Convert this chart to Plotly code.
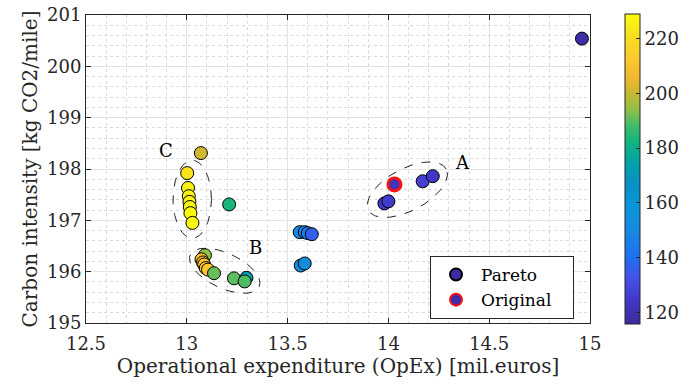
import numpy as np
import plotly.graph_objects as go

# Pareto-front designs: operational expenditure, carbon intensity, colour value
opex = [14.96, 13.98, 14.00, 14.17, 14.22,
        13.56, 13.585, 13.60, 13.62, 13.565, 13.585,
        13.07, 13.002, 13.006, 13.010, 13.013, 13.015, 13.018, 13.028, 13.21,
        13.09, 13.073, 13.080, 13.086, 13.094, 13.105, 13.135, 13.234, 13.296, 13.287]
carbon = [200.54, 197.33, 197.37, 197.76, 197.86,
          196.77, 196.77, 196.75, 196.73, 196.12, 196.16,
          198.31, 197.92, 197.63, 197.47, 197.36, 197.26, 197.14, 196.95, 197.31,
          196.32, 196.24, 196.18, 196.14, 196.07, 196.04, 195.97, 195.87, 195.88, 195.81]
cvalue = [118, 124, 126, 127, 124,
          150, 148, 146, 136, 155, 153,
          201, 222, 226, 227, 227, 227, 228, 228, 183,
          194, 210, 211, 212, 212, 211, 191, 190, 172, 189]

# Original design
orig_opex = [14.03]
orig_carbon = [197.70]
orig_cvalue = [122]

# Axis ticks
x_ticks = [12.5, 13, 13.5, 14, 14.5, 15]
y_ticks = [195, 196, 197, 198, 199, 200, 201]
c_ticks = [120, 140, 160, 180, 200, 220]
c_range = [115.8, 228.9]

X_RANGE = [12.5, 15]
Y_RANGE = [195, 201]

# Plot area geometry (pixels)
L, R, T, B = 86, 108, 15, 65
W, H = 698, 388
PW, PH = W - L - R, H - T - B
SX = PW / (X_RANGE[1] - X_RANGE[0])
SY = PH / (Y_RANGE[1] - Y_RANGE[0])

parula = [
    [0.00, "#3b2b9c"], [0.08, "#4238c8"], [0.145, "#4450e8"],
    [0.214, "#1f70f0"], [0.30, "#1888e0"], [0.39, "#0896d8"],
    [0.46, "#0890c0"], [0.52, "#00a4a8"], [0.585, "#10b480"],
    [0.64, "#40bc68"], [0.69, "#90c048"], [0.745, "#c8b830"],
    [0.80, "#f4b830"], [0.85, "#fcc830"], [0.92, "#f8dc20"],
    [1.00, "#f9fb0e"],
]

FONT = "DejaVu Serif"
INK = "#262626"

fig = go.Figure()


def ellipse(cx, cy, a_px, b_px, ang_deg):
    t = np.linspace(0, 2 * np.pi, 200)
    th = np.radians(ang_deg)
    u = a_px * np.cos(t)
    v = b_px * np.sin(t)
    dx = u * np.cos(th) - v * np.sin(th)
    dy = u * np.sin(th) + v * np.cos(th)
    return cx + dx / SX, cy + dy / SY


# dashed group outlines (centre in data units, semi-axes in px, tilt)
for cx, cy, a, b, ang in [(14.094, 197.597, 44, 21, 28),
                          (13.188, 196.018, 38, 17.5, -25),
                          (13.027, 197.41, 19.2, 39, 0)]:
    ex, ey = ellipse(cx, cy, a, b, ang)
    fig.add_trace(go.Scatter(x=ex, y=ey, mode="lines",
                             line=dict(color="#222222", width=1, dash="dash"),
                             showlegend=False, hoverinfo="skip"))

fig.add_trace(go.Scatter(
    x=opex, y=carbon, mode="markers", showlegend=False,
    marker=dict(size=13, color=cvalue, colorscale=parula,
                cmin=c_range[0], cmax=c_range[1],
                line=dict(color="black", width=1),
                colorbar=dict(
                    thickness=15, lenmode="pixels", len=310,
                    x=(625 - L) / PW, xanchor="left", xpad=0,
                    y=0.5, yanchor="middle", ypad=0,
                    outlinecolor=INK, outlinewidth=1,
                    tickvals=c_ticks, ticks="inside", ticklen=4,
                    tickcolor=INK,
                    tickfont=dict(family=FONT, size=18, color=INK),
                ))))

fig.add_trace(go.Scatter(
    x=orig_opex, y=orig_carbon, mode="markers", showlegend=False,
    marker=dict(size=13, color=orig_cvalue, colorscale=parula,
                cmin=c_range[0], cmax=c_range[1],
                line=dict(color="#ff1010", width=3))))

# legend entries
fig.add_trace(go.Scatter(x=[None], y=[None], mode="markers", name="Pareto    ",
                         marker=dict(size=13, color="#3c2ca8",
                                     line=dict(color="black", width=1))))
fig.add_trace(go.Scatter(x=[None], y=[None], mode="markers", name="Original   ",
                         marker=dict(size=13, color="#3c2ca8",
                                     line=dict(color="#ff1010", width=3))))

for txt, xx, yy in [("A", 14.37, 198.12), ("B", 13.343, 196.48), ("C", 12.897, 198.37)]:
    fig.add_annotation(x=xx, y=yy, text=txt, showarrow=False,
                       font=dict(family=FONT, size=18, color="black"))

axis_common = dict(
    showline=True, linecolor=INK, linewidth=1, mirror="ticks",
    ticks="inside", ticklen=5, tickcolor=INK,
    showgrid=True, gridcolor="#e3e3e3", gridwidth=1, zeroline=False,
    tickfont=dict(family=FONT, size=18, color=INK),
)

fig.update_xaxes(range=X_RANGE, tickvals=x_ticks, ticktext=[f"{v:g}" for v in x_ticks],
                 ticklabelstandoff=4,
                 minor=dict(dtick=0.1, tick0=12.5, showgrid=True, griddash="dot",
                            gridcolor="#dadada", ticks=""),
                 title=dict(text="Operational expenditure (OpEx) [mil.euros]",
                            font=dict(family=FONT, size=20, color=INK), standoff=6),
                 **axis_common)
fig.update_yaxes(range=Y_RANGE, tickvals=y_ticks,
                 minor=dict(dtick=0.2, tick0=195, showgrid=True, griddash="dot",
                            gridcolor="#dadada", ticks=""),
                 title=dict(text="Carbon intensity [kg CO2/mile]",
                            font=dict(family=FONT, size=20, color=INK), standoff=4),
                 **axis_common)

fig.update_layout(
    width=W, height=H,
    margin=dict(l=L, r=R, t=T, b=B, autoexpand=False),
    plot_bgcolor="white", paper_bgcolor="white",
    legend=dict(x=(430 - L) / PW, y=(H - B - 256) / PH, xanchor="left", yanchor="top",
                bgcolor="white", bordercolor=INK, borderwidth=1,
                font=dict(family=FONT, size=17, color="black"),
                itemsizing="constant", itemwidth=40, tracegroupgap=0),
)

fig.write_html("out.html")
